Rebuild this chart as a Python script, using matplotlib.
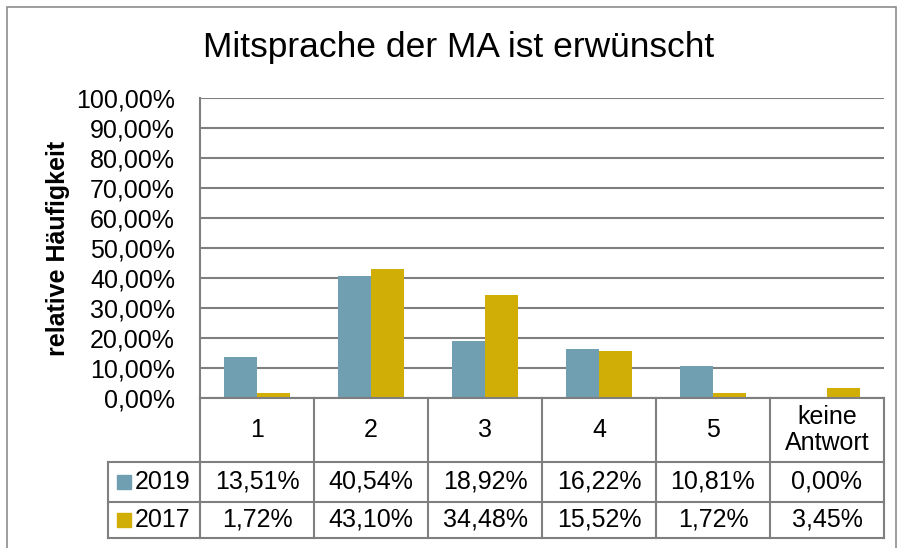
import numpy as np
import matplotlib.pyplot as plt
from matplotlib.transforms import blended_transform_factory
from matplotlib.patches import Rectangle

plt.rcParams['font.family'] = ['Liberation Sans', 'DejaVu Sans']

# Daten
kategorien = ['1', '2', '3', '4', '5', 'keine\nAntwort']
jahre = ['2019', '2017']
werte_2019 = [13.51, 40.54, 18.92, 16.22, 10.81, 0.00]
werte_2017 = [1.72, 43.10, 34.48, 15.52, 1.72, 3.45]
farben = ['#6f9fb0', '#d1ae05']

W, H = 899, 548
def fx(x):
    return x / W
def fy(y):
    return 1 - y / H

fs = 18  # Schriftgröße Achse/Tabelle

fig = plt.figure(figsize=(W / 100, H / 100), dpi=100)

# Rahmen
fig.patches.append(Rectangle((fx(7), fy(580)), fx(896) - fx(7), fy(7) - fy(580),
                             transform=fig.transFigure, fill=False,
                             edgecolor='#8c8c8c', lw=1.2))

ax = fig.add_axes([fx(200), fy(398), fx(884) - fx(200), fy(98) - fy(398)])
x = np.arange(len(kategorien))
bw = 0.29
ax.bar(x - bw / 2, werte_2019, bw, color=farben[0], zorder=3)
ax.bar(x + bw / 2, werte_2017, bw, color=farben[1], zorder=3)

ax.set_xlim(-0.5, len(kategorien) - 0.5)
ax.set_ylim(0, 100)
ax.set_yticks(np.arange(0, 101, 10))
ax.set_yticklabels([f'{v},00%' for v in range(0, 101, 10)], fontsize=fs)
ax.tick_params(axis='y', length=0, pad=18)
ax.set_xticks([])
ax.yaxis.grid(True, color='#7f7f7f', lw=1.5, zorder=0)
for s in ['top', 'right', 'bottom']:
    ax.spines[s].set_visible(False)
ax.spines['left'].set_color('#7f7f7f')
ax.spines['left'].set_linewidth(1.5)
ax.set_ylabel('relative Häufigkeit', fontsize=18, fontweight='bold')
ax.yaxis.set_label_coords(-0.19, 0.5)

fig.text(fx(459), fy(48), 'Mitsprache der MA ist erwünscht', fontsize=25.5,
         ha='center', va='center')

# Datentabelle
tr = blended_transform_factory(ax.transData, fig.transFigure)
lc = '#7f7f7f'
y_cat, y_r1, y_r2, y_end = 398, 462, 502, 538
for yy in [y_r1, y_r2, y_end]:
    fig.add_artist(plt.Line2D([fx(108), fx(884)], [fy(yy), fy(yy)],
                              transform=fig.transFigure, color=lc, lw=1.5))
fig.add_artist(plt.Line2D([fx(200), fx(884)], [fy(y_cat), fy(y_cat)],
                          transform=fig.transFigure, color=lc, lw=1.5))
for k in range(len(kategorien) + 1):
    fig.add_artist(plt.Line2D([k - 0.5, k - 0.5], [fy(y_cat), fy(y_end)],
                              transform=tr, color=lc, lw=1.5))
fig.add_artist(plt.Line2D([fx(108), fx(108)], [fy(y_r1), fy(y_end)],
                          transform=fig.transFigure, color=lc, lw=1.5))

for i, kat in enumerate(kategorien):
    fig.text(i, fy((y_cat + y_r1) / 2), kat, transform=tr, ha='center',
             va='center', fontsize=fs, linespacing=1.15)

zeilen = [(y_r1, y_r2), (y_r2, y_end)]
for j, (jahr, werte) in enumerate(zip(jahre, [werte_2019, werte_2017])):
    ym = fy((zeilen[j][0] + zeilen[j][1]) / 2)
    for i, v in enumerate(werte):
        fig.text(i, ym, f'{v:.2f}%'.replace('.', ','), transform=tr,
                 ha='center', va='center', fontsize=fs)
    fig.patches.append(Rectangle((fx(117), ym - (fy(0) - fy(14)) / 2),
                                 fx(14), fy(0) - fy(14),
                                 transform=fig.transFigure, color=farben[j]))
    fig.text(fx(135), ym, jahr, ha='left', va='center', fontsize=fs)

fig.savefig('out.png', dpi=100)
